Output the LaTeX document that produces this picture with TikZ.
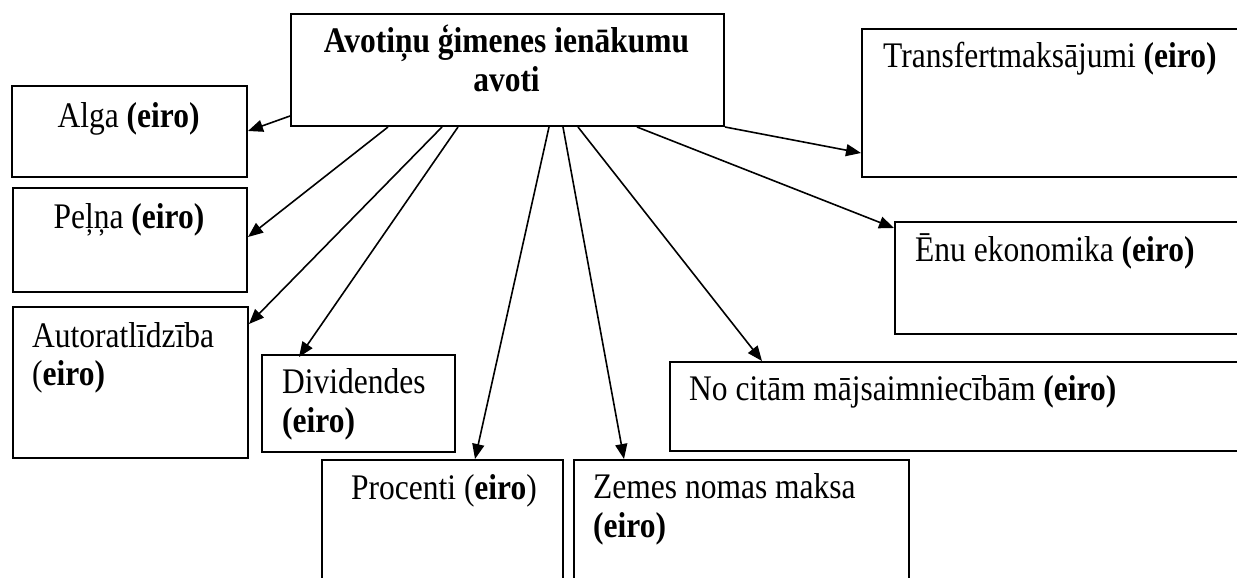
\documentclass[tikz,border=0pt]{standalone}
\usepackage{fontspec}
\setmainfont{Liberation Serif}[FakeStretch=0.875]
\usetikzlibrary{arrows.meta,calc}
\begin{document}
\begin{tikzpicture}[x=1pt,y=-1pt,
  box/.style={draw,line width=2pt,rectangle,inner sep=0pt,anchor=north west},
  txt/.style={anchor=base west,inner sep=0pt,font=\fontsize{36}{38}\selectfont},
  ctxt/.style={anchor=base,inner sep=0pt,font=\fontsize{36}{38}\selectfont},
  arr/.style={line width=1.6pt,-{Triangle[length=15pt,width=12pt]}}]
\clip (0,0) rectangle (1237,578);
\fill[white] (0,0) rectangle (1237,578);
% boxes
\node[box,minimum width=433pt,minimum height=112pt] (main) at (290,13) {};
\node[box,minimum width=235pt,minimum height=91pt] (alga) at (11,85) {};
\node[box,minimum width=234pt,minimum height=104pt] (pelna) at (12,187) {};
\node[box,minimum width=235pt,minimum height=151pt] (autor) at (12,306) {};
\node[box,minimum width=193pt,minimum height=97pt] (divid) at (261,354) {};
\node[box,minimum width=241pt,minimum height=200pt] (proc) at (321,459) {};
\node[box,minimum width=335pt,minimum height=200pt] (zemes) at (573,459) {};
\node[box,minimum width=600pt,minimum height=89pt] (nocit) at (669,361) {};
\node[box,minimum width=400pt,minimum height=112pt] (enu) at (894,221) {};
\node[box,minimum width=400pt,minimum height=148pt] (transf) at (861,28) {};
% texts
\node[ctxt,font=\fontsize{36}{38}\selectfont\bfseries] (mainA) at (506.5,53) {Avotiņu ģimenes ienākumu};
\node[ctxt,font=\fontsize{36}{38}\selectfont\bfseries] (mainB) at (506.5,92) {avoti};
\node[ctxt] (algaT) at (128.5,127) {Alga \textbf{(eiro)}};
\node[ctxt] (pelnaT) at (129,228) {Peļņa \textbf{(eiro)}};
\node[txt] (autorA) at (32,347) {Autoratlīdzība};
\node[txt] (autorB) at (32,385) {(\textbf{eiro)}};
\node[txt] (dividA) at (282,393) {Dividendes};
\node[txt] (dividB) at (282,432) {\textbf{(eiro)}};
\node[ctxt] (procT) at (444,499) {Procenti (\textbf{eiro})};
\node[txt] (zemesA) at (593,498) {Zemes nomas maksa};
\node[txt] (zemesB) at (593,537) {\textbf{(eiro)}};
\node[txt] (nocitT) at (689,400) {No citām mājsaimniecībām \textbf{(eiro)}};
\node[txt] (enuT) at (915,261) {Ēnu ekonomika \textbf{(eiro)}};
\node[txt] (transfT) at (883,68) {Transfertmaksājumi \textbf{(eiro)}};
% connectors
\draw[arr] ($(main.south west)+(0,-11)$) -- ($(alga.north east)+(0,46)$);
\draw[arr] ($(main.south west)+(98,0)$) -- ($(pelna.north east)+(0,50)$);
\draw[arr] ($(main.south west)+(152,0)$) -- ($(autor.north east)+(0,18)$);
\draw[arr] ($(main.south west)+(168,0)$) -- ($(divid.north west)+(38,3)$);
\draw[arr] ($(main.south west)+(259,0)$) -- ($(proc.north west)+(154,0)$);
\draw[arr] ($(main.south west)+(273,0)$) -- ($(zemes.north west)+(51,0)$);
\draw[arr] ($(main.south west)+(288,0)$) -- ($(nocit.north west)+(93,0)$);
\draw[arr] ($(main.south west)+(347,0)$) -- ($(enu.north west)+(0,7)$);
\draw[arr] (main.south east) -- ($(transf.north west)+(0,125)$);
\end{tikzpicture}
\end{document}
